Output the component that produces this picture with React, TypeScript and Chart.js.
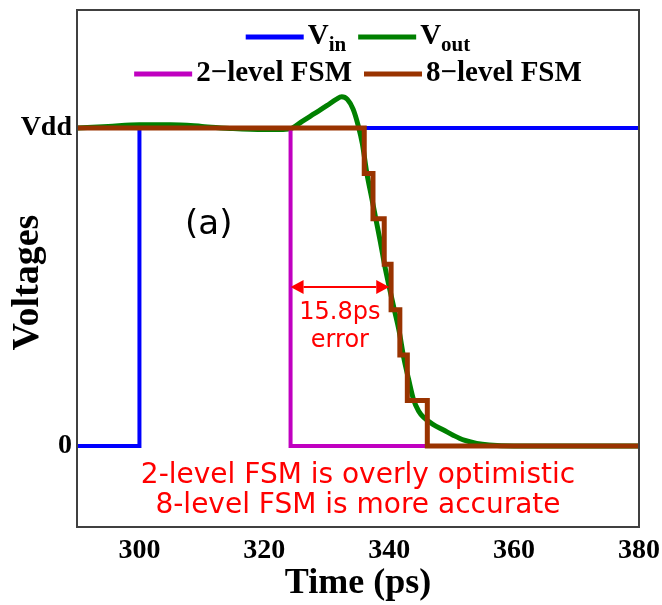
import { useEffect, useRef } from "react";
import { Chart, registerables } from "chart.js";

Chart.register(...registerables);

// Time axis (ps)
const timeTicks = [300, 320, 340, 360, 380];
const timeMin = 290;
const timeMax = 380;

// Voltage axis (fraction of Vdd)
const voltageTicks = [0, 1];
const voltageTickLabels = ["0", "Vdd"];
const voltageMin = -0.255;
const voltageMax = 1.371;

// Input step
const vinTime = [290, 300, 380];
const vinLevel = [0, 1, 1];

// Simulated output waveform
const voutTime = [
  290, 295, 300, 305, 310, 315, 320, 323, 324.5, 326, 328, 330, 331.5, 332.4,
  333.3, 334.2, 335, 335.7, 336.4, 337.2, 337.9, 338.6, 339.3, 340, 340.8,
  341.6, 342.3, 343.1, 343.9, 344.7, 345.5, 347, 348.7, 350.3, 352, 354, 356,
  360, 380,
];
const voutLevel = [
  1.0, 1.005, 1.01, 1.01, 1.005, 0.998, 0.995, 0.995, 1.0, 1.02, 1.045, 1.07,
  1.09, 1.098, 1.09, 1.06, 1.01, 0.95, 0.86, 0.78, 0.71, 0.64, 0.565, 0.5,
  0.43, 0.36, 0.28, 0.21, 0.145, 0.11, 0.09, 0.068, 0.05, 0.033, 0.018, 0.008,
  0.003, 0, 0,
];

// 2-level FSM output (switch times, new level)
const fsm2Time = [290, 324.2, 380];
const fsm2Level = [1, 0, 0];

// 8-level FSM output (switch times, new level)
const fsm8Time = [290, 336, 337.4, 339.2, 340.3, 341.7, 342.9, 346.1, 380];
const fsm8Level = [1, 6 / 7, 5 / 7, 4 / 7, 3 / 7, 2 / 7, 1 / 7, 0, 0];

// Delay error between the 2-level switch and the 50% crossing of Vout
const errorStart = 324.2;
const errorEnd = 340.0;
const errorLevel = 0.5;

const seriesColors = ["#0000ff", "#008000", "#c000c0", "#993300"];

const SERIF = '"Liberation Serif", "Times New Roman", "DejaVu Serif", serif';
const SANS = '"DejaVu Sans", "Liberation Sans", sans-serif';

const toPoints = (xs: number[], ys: number[]) =>
  xs.map((x, i) => ({ x, y: ys[i] }));

// Frame around the plotting area
const framePlugin = {
  id: "frame",
  afterDatasetsDraw(chart: any) {
    const { ctx, chartArea } = chart;
    ctx.save();
    ctx.strokeStyle = "#404040";
    ctx.lineWidth = 2;
    ctx.strokeRect(
      chartArea.left,
      chartArea.top,
      chartArea.right - chartArea.left,
      chartArea.bottom - chartArea.top
    );
    ctx.restore();
  },
};

type LegendEntry = { color: string; main: string; sub?: string };
const legendRows: LegendEntry[][] = [
  [
    { color: seriesColors[0], main: "V", sub: "in" },
    { color: seriesColors[1], main: "V", sub: "out" },
  ],
  [
    { color: seriesColors[2], main: "2\u2212level FSM" },
    { color: seriesColors[3], main: "8\u2212level FSM" },
  ],
];

const legendPlugin = {
  id: "twoRowLegend",
  afterDraw(chart: any) {
    const { ctx, chartArea } = chart;
    const mainFont = `bold 29px ${SERIF}`;
    const subFont = `bold 21px ${SERIF}`;
    const handle = 58;
    const handleGap = 4;
    const itemGap = 12;
    const rowY = [chartArea.top + 27, chartArea.top + 64];
    const cx = (chartArea.left + chartArea.right) / 2;
    ctx.save();
    legendRows.forEach((row, r) => {
      const widths = row.map((e) => {
        ctx.font = mainFont;
        let w = ctx.measureText(e.main).width;
        if (e.sub) {
          ctx.font = subFont;
          w += ctx.measureText(e.sub).width;
        }
        return w;
      });
      const total =
        widths.reduce((a, w) => a + handle + handleGap + w, 0) +
        itemGap * (row.length - 1);
      let x = cx - total / 2;
      const y = rowY[r];
      row.forEach((e) => {
        ctx.strokeStyle = e.color;
        ctx.lineWidth = 5;
        ctx.beginPath();
        ctx.moveTo(x, y);
        ctx.lineTo(x + handle, y);
        ctx.stroke();
        x += handle + handleGap;
        ctx.fillStyle = "#000";
        ctx.textAlign = "left";
        ctx.textBaseline = "middle";
        ctx.font = mainFont;
        ctx.fillText(e.main, x, y);
        let w = ctx.measureText(e.main).width;
        if (e.sub) {
          ctx.font = subFont;
          ctx.fillText(e.sub, x + w, y + 9);
          w += ctx.measureText(e.sub).width;
        }
        x += w + itemGap;
      });
    });
    ctx.restore();
  },
};

const annotationPlugin = {
  id: "notes",
  afterDraw(chart: any) {
    const { ctx } = chart;
    const xs = chart.scales.x;
    const ys = chart.scales.y;
    const px = (t: number) => xs.getPixelForValue(t);
    const py = (v: number) => ys.getPixelForValue(v);
    ctx.save();

    // y-axis title
    ctx.fillStyle = "#000";
    ctx.font = `bold 38px ${SERIF}`;
    ctx.textAlign = "center";
    ctx.textBaseline = "middle";
    ctx.save();
    ctx.translate(28.5, 282.5);
    ctx.rotate(-Math.PI / 2);
    ctx.fillText("Voltages", 0, 0);
    ctx.restore();

    // panel tag
    ctx.font = `34px ${SANS}`;
    ctx.fillText("(a)", px(311.1), py(0.695));

    // delay-error arrow
    const x0 = px(errorStart);
    const x1 = px(errorEnd);
    const ya = py(errorLevel);
    const head = 13;
    const half = 7;
    ctx.strokeStyle = "#ff0000";
    ctx.fillStyle = "#ff0000";
    ctx.lineWidth = 2;
    ctx.beginPath();
    ctx.moveTo(x0 + head, ya);
    ctx.lineTo(x1 - head, ya);
    ctx.stroke();
    ctx.beginPath();
    ctx.moveTo(x0, ya);
    ctx.lineTo(x0 + head, ya - half);
    ctx.lineTo(x0 + head, ya + half);
    ctx.closePath();
    ctx.fill();
    ctx.beginPath();
    ctx.moveTo(x1, ya);
    ctx.lineTo(x1 - head, ya - half);
    ctx.lineTo(x1 - head, ya + half);
    ctx.closePath();
    ctx.fill();

    const mid = (errorStart + errorEnd) / 2;
    ctx.font = `24px ${SANS}`;
    ctx.fillText(`${(errorEnd - errorStart).toFixed(1)}ps`, px(mid), py(0.418));
    ctx.fillText("error", px(mid), py(0.33));

    // conclusion
    ctx.font = `28px ${SANS}`;
    ctx.fillText("2-level FSM is overly optimistic", px(335), py(-0.094));
    ctx.fillText("8-level FSM is more accurate", px(335), py(-0.189));

    ctx.restore();
  },
};

export default function App() {
  const canvasRef = useRef<HTMLCanvasElement | null>(null);

  useEffect(() => {
    const canvas = canvasRef.current;
    if (!canvas) return;
    const chart = new Chart(canvas, {
      type: "line",
      data: {
        datasets: [
          {
            label: "8-level FSM",
            data: toPoints(fsm8Time, fsm8Level),
            borderColor: seriesColors[3],
            borderWidth: 5,
            stepped: true,
            order: 0,
          },
          {
            label: "2-level FSM",
            data: toPoints(fsm2Time, fsm2Level),
            borderColor: seriesColors[2],
            borderWidth: 4,
            stepped: true,
            order: 1,
          },
          {
            label: "Vout",
            data: toPoints(voutTime, voutLevel),
            borderColor: seriesColors[1],
            borderWidth: 5,
            cubicInterpolationMode: "monotone",
            order: 2,
          },
          {
            label: "Vin",
            data: toPoints(vinTime, vinLevel),
            borderColor: seriesColors[0],
            borderWidth: 4,
            stepped: true,
            order: 3,
          },
        ],
      },
      options: {
        responsive: false,
        animation: false,
        devicePixelRatio: 1,
        layout: { padding: { top: 10, right: 23, left: 0, bottom: 0 } },
        elements: { point: { radius: 0 } },
        plugins: {
          legend: { display: false },
          tooltip: { enabled: false },
        },
        scales: {
          x: {
            type: "linear",
            min: timeMin,
            max: timeMax,
            afterBuildTicks: (s: any) => {
              s.ticks = timeTicks.map((v) => ({ value: v }));
            },
            afterFit: (s: any) => {
              s.height = 78;
              s.paddingLeft = 0;
              s.paddingRight = 0;
            },
            grid: { display: false, drawTicks: false },
            border: { display: false },
            ticks: {
              color: "#000",
              padding: 7,
              maxRotation: 0,
              autoSkip: false,
              font: { family: SERIF, size: 28, weight: "bold" },
            },
            title: {
              display: true,
              text: "Time (ps)",
              color: "#000",
              font: { family: SERIF, size: 36, weight: "bold", lineHeight: 1 },
              padding: { top: 0, bottom: 3 },
            },
          },
          y: {
            type: "linear",
            min: voltageMin,
            max: voltageMax,
            afterBuildTicks: (s: any) => {
              s.ticks = voltageTicks.map((v) => ({ value: v }));
            },
            afterFit: (s: any) => {
              s.width = 77;
              s.paddingTop = 0;
              s.paddingBottom = 0;
            },
            grid: { display: false, drawTicks: false },
            border: { display: false },
            ticks: {
              color: "#000",
              padding: 5,
              autoSkip: false,
              font: { family: SERIF, size: 28, weight: "bold" },
              callback: (v: any) => {
                const i = voltageTicks.indexOf(Number(v));
                return i >= 0 ? voltageTickLabels[i] : "";
              },
            },
          },
        },
      },
      plugins: [framePlugin, legendPlugin, annotationPlugin],
    } as any);
    return () => chart.destroy();
  }, []);

  return (
    <div style={{ position: "absolute", left: 0, top: 0, width: 662, height: 605, background: "#fff" }}>
      <canvas ref={canvasRef} width={662} height={605} />
    </div>
  );
}
